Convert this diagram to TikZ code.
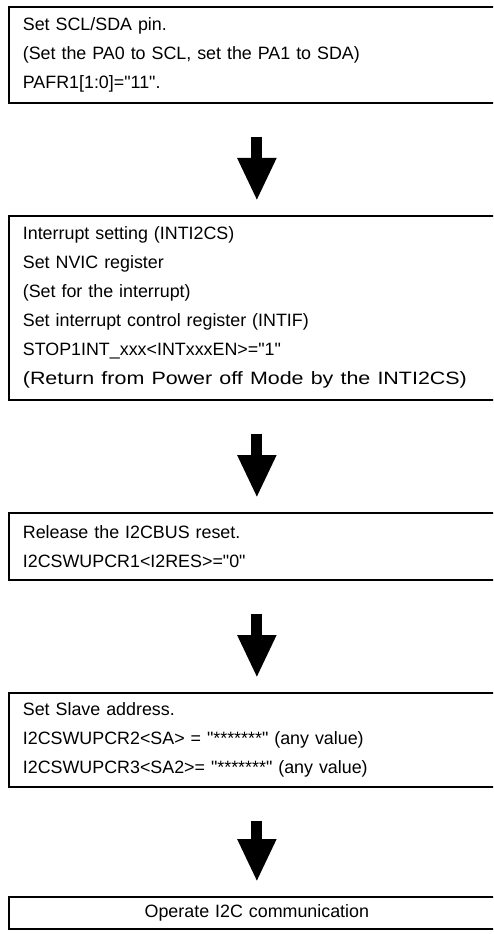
\documentclass[tikz,border=0pt]{standalone}
\usepackage{fontspec}
\setmainfont{Liberation Sans}
\usetikzlibrary{arrows.meta}
\newcommand{\qq}{\textquotedbl}
\begin{document}
\begin{tikzpicture}[x=0.75pt,y=-0.75pt,
  stepbox/.style={draw=black, line width=1.3pt, anchor=north west,
    minimum width=372pt, inner xsep=10.5pt, inner ysep=0pt, text width=351pt,
    align=left, font=\fontsize{13.4}{21.75}\selectfont},
  bigarrow/.style={line width=8.25pt, -{Triangle[width=27pt,length=32.25pt]},
    shorten <=24.75pt, shorten >=10.5pt}]
\useasboundingbox (0,0) rectangle (493,934);
\clip (0,0) rectangle (493,934);
\node[stepbox, minimum height=72pt] (b1) at (8,6)
  {Set SCL/SDA pin.\\(Set the PA0 to SCL, set the PA1 to SDA)\\PAFR1[1:0]=\qq11\qq.};
\node[stepbox, minimum height=138pt] (b2) at (8,215)
  {Interrupt setting (INTI2CS)\\Set NVIC register\\(Set for the interrupt)\\Set interrupt control register (INTIF)\\STOP1INT\_xxx<INTxxxEN>=\qq1\qq\\\scalebox{1.2}[1]{(Return from Power off Mode by the INTI2CS)}};
\node[stepbox, minimum height=50.25pt] (b3) at (8,512)
  {Release the I2CBUS reset.\\I2CSWUPCR1<I2RES>=\qq0\qq};
\node[stepbox, minimum height=70.5pt] (b4) at (8,692)
  {Set Slave address.\\I2CSWUPCR2<SA> = \qq*******\qq{} (any value)\\I2CSWUPCR3<SA2>= \qq*******\qq{} (any value)};
\node[stepbox, minimum height=24pt, align=center] (b5) at (8,896)
  {Operate I2C communication};
\draw[bigarrow] (b1.south) -- (b2.north);
\draw[bigarrow] (b2.south) -- (b3.north);
\draw[bigarrow] (b3.south) -- (b4.north);
\draw[bigarrow] (b4.south) -- (b5.north);
\end{tikzpicture}
\end{document}
